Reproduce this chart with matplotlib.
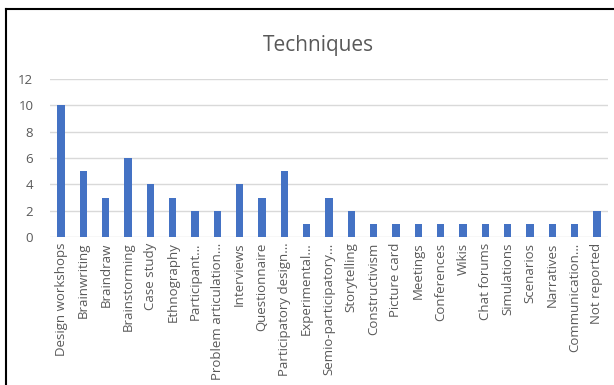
import matplotlib
matplotlib.use("Agg")
import matplotlib.pyplot as plt
from matplotlib.lines import Line2D

categories = ["Design workshops", "Brainwriting", "Braindraw", "Brainstorming", "Case study",
              "Ethnography", "Participant…", "Problem articulation…", "Interviews", "Questionnaire",
              "Participatory design…", "Experimental…", "Semio-participatory…", "Storytelling",
              "Constructivism", "Picture card", "Meetings", "Conferences", "Wikis", "Chat forums",
              "Simulations", "Scenarios", "Narratives", "Communication…", "Not reported"]
values = [10, 5, 3, 6, 4, 3, 2, 2, 4, 3, 5, 1, 3, 2, 1, 1, 1, 1, 1, 1, 1, 1, 1, 1, 2]
yticks = [0, 2, 4, 6, 8, 10, 12]

plt.rcParams['font.family'] = ['Open Sans', 'DejaVu Sans']
fig = plt.figure(figsize=(6.14, 3.85), dpi=100)
ax = fig.add_axes([50/614, 1-237/385, 558/614, 158/385])
x = list(range(len(categories)))
ax.bar(x, values, width=0.33, color="#4472C4", zorder=3)
ax.set_xlim(-0.5, len(categories)-0.5)
ax.set_ylim(0, 12)
ax.set_yticks(yticks)
ax.set_yticklabels([str(t) for t in yticks], fontsize=9.5, color="#595959")
ax.set_xticks(x)
ax.set_xticklabels(categories, rotation=90, fontsize=9.5, color="#595959")
ax.tick_params(length=0, pad=4)
ax.tick_params(axis='y', pad=12)
ax.grid(axis='y', color="#d9d9d9", linewidth=1, zorder=0)
for s in ax.spines.values():
    s.set_visible(False)
fig.text(318/614, 1-45/385, "Techniques", fontsize=15, color="#595959", ha="center", va="center")
fig.add_artist(Line2D([6/614, 6/614], [0, 1-9/385], color="black", linewidth=1.5, transform=fig.transFigure))
fig.add_artist(Line2D([6/614, 1], [1-9/385, 1-9/385], color="black", linewidth=1.5, transform=fig.transFigure))
fig.savefig("out.png", dpi=100)
